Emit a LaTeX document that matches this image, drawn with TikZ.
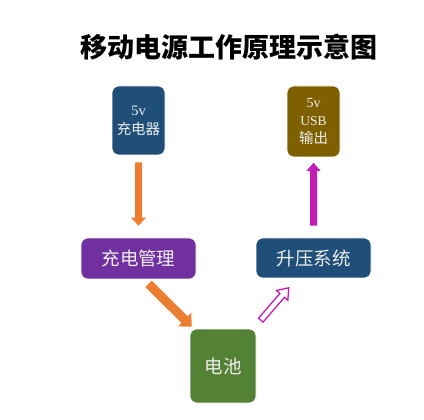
\documentclass[tikz,border=0pt]{standalone}
\usepackage{fontspec}
\newfontfamily\cjk{Noto Sans CJK SC}
\newfontfamily\lat{Liberation Serif}
\usetikzlibrary{calc}
\definecolor{cblue}{HTML}{1F4E79}
\definecolor{cbrown}{HTML}{7F6000}
\definecolor{cpurple}{HTML}{7030A0}
\definecolor{cgreen}{HTML}{548235}
\definecolor{corange}{HTML}{ED7D31}
\definecolor{cmagenta}{HTML}{C21DB5}
\definecolor{ctext}{HTML}{EEEEEE}
\newcommand{\blockarrow}[6]{%
  \coordinate (hb) at ($(#2)!#5!(#1)$);
  \draw[#6] ($(#1)!#3!90:(#2)$) -- ($(hb)!#3!-90:(#1)$) -- ($(hb)!#4!-90:(#1)$) -- (#2)
    -- ($(hb)!#4!90:(#1)$) -- ($(hb)!#3!90:(#1)$) -- ($(#1)!#3!-90:(#2)$) -- cycle;
}
\newcommand{\lt}[2][14.5]{{\lat\fontsize{#1}{19}\selectfont #2}}
\newcommand{\ct}[1]{{\cjk\fontsize{14.5}{19}\selectfont #1}}
\begin{document}
\begin{tikzpicture}[x=1pt,y=-1pt,
  box/.style={rounded corners=7pt, draw=white, line width=0.6pt, text=ctext, align=center, inner sep=0pt},
  cn/.style={font=\cjk\fontsize{18.5}{20}\selectfont}]
\useasboundingbox (0,0) rectangle (424,420);
\node[font=\cjk\bfseries\fontsize{27}{30}\selectfont] (title) at (229,47) {移动电源工作原理示意图};
\node[box, fill=cblue, minimum width=53pt, minimum height=69pt, font=\fontsize{14.5}{19}\selectfont] (charger) at (138.5,120.5) {\lt{5v}\\\ct{充电器}};
\node[box, fill=cbrown, minimum width=53pt, minimum height=71pt, font=\fontsize{14.5}{18}\selectfont] (usb) at (313.5,121.5) {\lt[14]{5v}\\\lt[13.5]{USB}\\\ct{输出}};
\node[box, fill=cpurple, minimum width=115pt, minimum height=41pt, cn] (mgmt) at (138.5,258.5) {充电管理};
\node[box, fill=cblue, minimum width=115pt, minimum height=40pt, cn] (boost) at (313.5,258) {升压系统};
\node[box, fill=cgreen, minimum width=66pt, minimum height=74pt, cn] (bat) at (223,366) {电池};
% arrow endpoints
\coordinate (a1s) at ($(charger.south)+(0,7)$);
\coordinate (a1e) at ($(mgmt.north)+(0,-12)$);
\coordinate (a2s) at ($(boost.north)+(0,-12)$);
\coordinate (a2e) at ($(usb.south)+(0,5.5)$);
\coordinate (a3s) at ($(mgmt.south)+(10,4.5)$);
\coordinate (a3e) at ($(bat.north west)+(2,-2)$);
\coordinate (a4s) at ($(bat.north east)+(4.5,-8.5)$);
\coordinate (a4e) at ($(boost.south west)+(33,9.5)$);
\blockarrow{a1s}{a1e}{3.5pt}{7.5pt}{8pt}{fill=corange, draw=none}
\blockarrow{a2s}{a2e}{3.5pt}{7pt}{8pt}{fill=cmagenta, draw=none}
\blockarrow{a3s}{a3e}{4.5pt}{9.5pt}{10pt}{fill=corange, draw=none}
\blockarrow{a4s}{a4e}{3pt}{7.5pt}{10pt}{fill=white, draw=cmagenta, line width=1.3pt, line join=miter}
\end{tikzpicture}
\end{document}
